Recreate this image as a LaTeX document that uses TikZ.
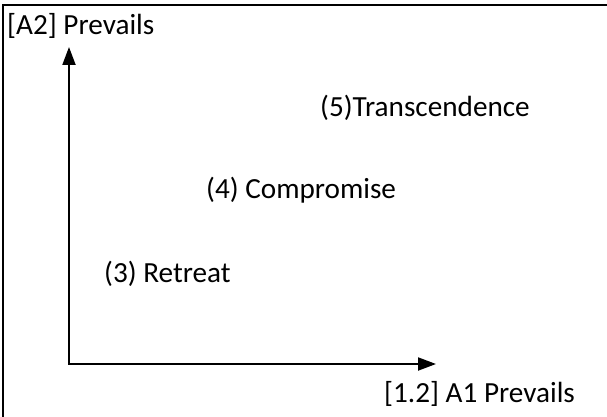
\documentclass[tikz,border=0pt]{standalone}
\usepackage{fontspec}
\setmainfont{Carlito}
\usetikzlibrary{arrows.meta}
\tikzset{
  lbl/.style={anchor=base west, inner sep=0pt, font=\fontsize{29.2}{34}\selectfont},
  axis/.style={line width=2pt, {Triangle[length=18pt,width=13pt]}-{Triangle[length=18pt,width=13pt]}},
  frame/.style={line width=2pt}
}
\begin{document}
\begin{tikzpicture}[x=1pt,y=-1pt]
\useasboundingbox (0,0) rectangle (607,417);
\draw[frame] (3,430) -- (3,5.5) -- (620,5.5);
\coordinate (o) at (69,364);
\coordinate (ytip) at (69,47);
\coordinate (xtip) at (436,364);
\draw[axis] (ytip) -- (o) -- (xtip);
\node[lbl] (a2) at (7,35) {[A2] Prevails};
\node[lbl] (t5) at (320,117) {(5)Transcendence};
\node[lbl] (c4) at (206,198) {(4) Compromise};
\node[lbl] (r3) at (104,282) {(3) Retreat};
\node[lbl] (a1) at (384,402) {[1.2] A1 Prevails};
\end{tikzpicture}
\end{document}
